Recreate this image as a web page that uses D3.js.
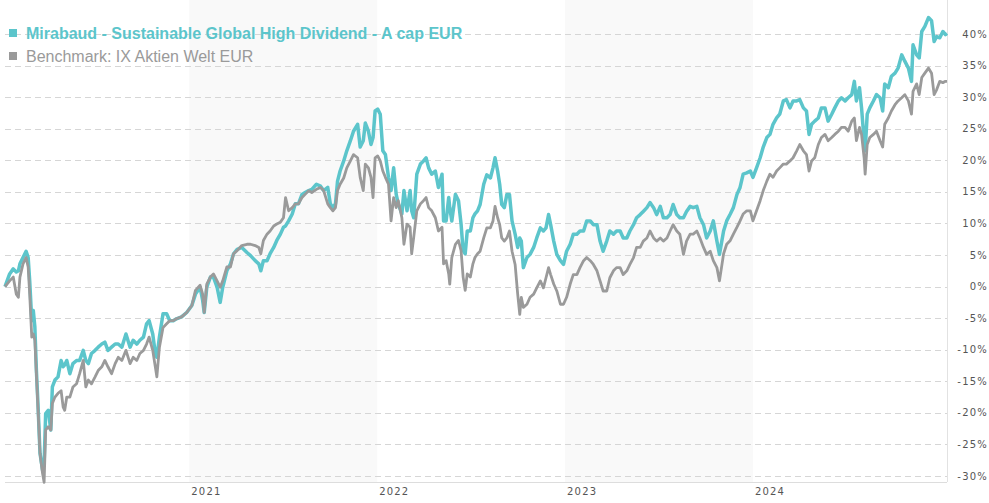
<!DOCTYPE html>
<meta charset="utf-8">
<style>

html, body {
  margin: 0;
  background: #fff;
}

svg {
  display: block;
  font-family: 'Liberation Sans', Arial, sans-serif;
}

.band {
  fill: #f9f9f9;
}

.grid line {
  stroke: #d6d6d6;
  stroke-width: 1px;
  stroke-dasharray: 6, 4;
}

.axis text {
  font-family: 'DejaVu Sans', sans-serif;
  font-size: 10px;
  letter-spacing: 1.2px;
  fill: #555;
}

.fund {
  fill: none;
  stroke: #5cc5cb;
  stroke-width: 3.5px;
  stroke-linejoin: round;
}

.bench {
  fill: none;
  stroke: #9a9a9a;
  stroke-width: 2.8px;
  stroke-linejoin: round;
}

</style>
<svg class="chart"></svg>
<script src="https://d3js.org/d3.v7.min.js"></script>
<script>

var width = 989;
var height = 503;

// dates are "year-dayOfYear"
var dates = [
  '2020-009','2020-018','2020-025','2020-031','2020-035','2020-038','2020-044','2020-050','2020-054','2020-057',
  '2020-061','2020-064','2020-067','2020-070','2020-073','2020-077','2020-082','2020-085','2020-088','2020-093',
  '2020-098','2020-101','2020-106','2020-112','2020-118','2020-122','2020-125','2020-129','2020-135','2020-141',
  '2020-148','2020-154','2020-161','2020-166','2020-171','2020-177','2020-184','2020-190','2020-197','2020-203',
  '2020-209','2020-216','2020-223','2020-229','2020-236','2020-244','2020-252','2020-258','2020-265','2020-271',
  '2020-278','2020-284','2020-289','2020-296','2020-301','2020-304','2020-309','2020-316','2020-323','2020-329',
  '2020-336','2020-342','2020-352','2020-362',
  '2021-006','2021-013','2021-022','2021-027','2021-030','2021-035','2021-042','2021-048','2021-055','2021-061',
  '2021-066','2021-074','2021-081','2021-087','2021-094','2021-103','2021-113','2021-120','2021-129','2021-136',
  '2021-140','2021-145','2021-152','2021-158','2021-165','2021-171','2021-178','2021-184','2021-188','2021-194',
  '2021-201','2021-207','2021-213','2021-220','2021-226','2021-233','2021-239','2021-248','2021-256','2021-262',
  '2021-270','2021-275','2021-280','2021-285','2021-289','2021-294','2021-301','2021-307','2021-314','2021-320',
  '2021-328','2021-333','2021-339','2021-343','2021-349','2021-354','2021-358','2021-362',
  '2022-002','2022-007','2022-012','2022-017','2022-023','2022-028','2022-033','2022-038','2022-042','2022-049',
  '2022-053','2022-059','2022-065','2022-068','2022-072','2022-078','2022-085','2022-091','2022-096','2022-101',
  '2022-107','2022-114','2022-120','2022-127','2022-130','2022-135','2022-140','2022-142','2022-146','2022-153',
  '2022-159','2022-164','2022-168','2022-172','2022-176','2022-182','2022-187','2022-191','2022-196','2022-201',
  '2022-208','2022-214','2022-221','2022-226','2022-230','2022-235','2022-239','2022-243','2022-248','2022-253',
  '2022-258','2022-263','2022-269','2022-274','2022-278','2022-281','2022-285','2022-292','2022-298','2022-305',
  '2022-311','2022-318','2022-324','2022-329','2022-334','2022-338','2022-344','2022-350','2022-357','2022-363',
  '2023-004','2023-011','2023-017','2023-024','2023-030','2023-037','2023-043','2023-050','2023-056','2023-063',
  '2023-069','2023-075','2023-082','2023-088','2023-095','2023-101','2023-108','2023-114','2023-121','2023-127',
  '2023-134','2023-140','2023-147','2023-153','2023-160','2023-166','2023-173','2023-179','2023-186','2023-192',
  '2023-199','2023-205','2023-211','2023-218','2023-224','2023-231','2023-237','2023-244','2023-250','2023-257',
  '2023-263','2023-270','2023-276','2023-283','2023-289','2023-296','2023-301','2023-309','2023-315','2023-322',
  '2023-328','2023-335','2023-341','2023-347','2023-354','2023-361',
  '2024-001','2024-008','2024-015','2024-021','2024-028','2024-034','2024-040','2024-047','2024-053','2024-060',
  '2024-066','2024-073','2024-079','2024-086','2024-092','2024-099','2024-105','2024-110','2024-115','2024-121',
  '2024-128','2024-134','2024-141','2024-147','2024-154','2024-160','2024-167','2024-173','2024-180','2024-186',
  '2024-193','2024-198','2024-202','2024-208','2024-212','2024-217','2024-219','2024-223','2024-228','2024-235',
  '2024-241','2024-248','2024-253','2024-257','2024-264','2024-270','2024-277','2024-283','2024-290','2024-296',
  '2024-303','2024-309','2024-312','2024-319','2024-324','2024-329','2024-335','2024-342','2024-348','2024-353',
  '2024-358','2024-364','2025-004','2025-009','2025-012'
];

// Mirabaud - Sustainable Global High Dividend - A cap EUR, cumulative %
var fund = [
  0, 2.0, 2.8, 2.3, 2.5, 3.6, 4.6, 5.6, 4.6, 0.9,
  -5.4, -3.8, -6.4, -13.3, -18.5, -26.4, -29.1, -28.0, -20.1, -19.6,
  -22.7, -15.9, -14.8, -14.3, -11.7, -12.7, -12.4, -11.7, -13.8, -12.2,
  -11.7, -11.7, -10.1, -11.7, -12.2, -10.6, -10.1, -9.6, -9.1, -8.8,
  -10.1, -9.6, -9.1, -9.1, -9.6, -7.5, -9.6, -8.5, -9.1, -8.5,
  -8.0, -5.9, -5.4, -7.5, -10.6, -11.2, -8.0, -4.3, -4.3, -5.4,
  -5.4, -5.1, -4.8, -4.1,
  -3.0, -1.2, -0.1, -2.2, -4.1, -0.1, 1.5, 1.5, -0.1, -2.5,
  -0.1, 2.5, 3.6, 5.2, 5.9, 6.2, 5.4, 4.9, 4.1, 3.6,
  2.5, 4.1, 4.1, 5.2, 6.2, 7.3, 8.3, 9.4, 9.6, 10.4,
  11.5, 13.1, 13.1, 14.6, 14.9, 15.2, 15.4, 16.2, 15.9, 15.2,
  15.7, 13.1, 12.5, 13.1, 16.7, 18.3, 19.9, 21.5, 23.1, 24.6,
  25.7, 22.1, 23.1, 25.9, 24.6, 22.5, 23.6, 27.8,
  28.1, 27.3, 21.5, 20.9, 17.3, 15.2, 18.8, 14.6, 13.1, 11.5,
  15.2, 12.0, 15.2, 12.0, 10.9, 17.8, 19.4, 19.9, 20.4, 18.8,
  17.8, 18.3, 15.7, 17.8, 10.4, 10.4, 14.1, 12.5, 10.4, 14.6,
  13.6, 9.9, 5.7, 5.2, 8.8, 8.8, 10.9, 11.5, 12.0, 13.0,
  16.2, 17.7, 17.2, 18.8, 20.4, 18.3, 16.2, 13.0, 12.5, 14.6,
  14.6, 10.4, 8.3, 6.2, 7.7, 7.2, 3.0, 4.6, 5.1, 6.2,
  7.7, 9.3, 8.8, 9.3, 11.4, 9.8, 7.2, 5.1, 4.1, 3.5,
  5.6, 6.7, 8.3, 8.3, 8.8, 8.8, 10.4, 10.4, 9.8, 9.8,
  7.2, 5.6, 7.2, 8.8, 8.3, 8.8, 8.8, 7.7, 7.7, 8.8,
  9.8, 10.9, 11.4, 11.9, 12.5, 13.3, 12.5, 11.4, 12.7, 10.9,
  10.9, 11.4, 13.0, 11.4, 10.9, 10.9, 11.9, 12.7, 12.5, 12.7,
  10.9, 9.8, 7.7, 8.8, 10.4, 7.2, 5.1, 8.8, 10.4, 11.5,
  12.5, 14.6, 15.7, 17.8, 18.0, 18.3,
  17.3, 18.8, 20.4, 22.1, 23.6, 24.1, 25.7, 26.7, 27.3, 29.4,
  29.6, 28.3, 29.4, 29.4, 29.6, 28.3, 27.8, 24.1, 25.7, 26.2,
  26.7, 28.3, 28.3, 26.2, 27.3, 28.3, 29.4, 29.9, 29.4, 29.9,
  30.4, 32.5, 29.4, 31.5, 28.3, 23.1, 21.5, 27.3, 28.3, 29.4,
  30.4, 29.9, 27.8, 32.1, 31.5, 33.3, 33.8, 34.6, 36.7, 35.7,
  34.6, 32.5, 38.3, 36.7, 36.2, 40.4, 41.2, 42.6, 42.1, 38.8,
  39.6, 39.4, 40.4, 39.9, 40.1
];

// Benchmark: IX Aktien Welt EUR, cumulative %
var bench = [
  0, 0.9, 1.5, -1.2, -1.7, 1.5, 3.6, 4.6, 3.1, -1.2,
  -8.0, -7.5, -8.5, -13.8, -19.1, -26.4, -29.6, -31.0, -22.7, -22.2,
  -22.7, -18.5, -17.5, -16.9, -16.5, -19.1, -19.6, -17.5, -17.5, -15.9,
  -15.4, -13.8, -11.7, -15.9, -14.8, -15.4, -14.3, -13.3, -12.7, -11.7,
  -12.7, -13.8, -12.2, -11.2, -11.7, -10.1, -12.2, -11.2, -11.7, -10.6,
  -10.1, -9.1, -8.0, -10.1, -12.7, -14.3, -9.6, -6.5, -5.9, -5.4,
  -5.4, -5.1, -4.8, -4.1,
  -3.0, -0.6, 0.2, -1.2, -4.1, 0.4, 1.5, 2.0, 0.9, -0.1,
  0.9, 3.1, 3.1, 5.2, 5.7, 6.5, 6.7, 6.7, 6.5, 6.2,
  5.2, 7.3, 8.3, 8.8, 9.6, 9.9, 10.2, 10.9, 14.1, 12.0,
  12.5, 13.1, 13.1, 14.1, 14.6, 15.2, 14.9, 15.4, 15.7, 15.2,
  13.1, 12.5, 12.0, 12.5, 15.2, 16.2, 17.2, 18.8, 19.9, 20.9,
  20.4, 17.3, 15.2, 19.4, 18.8, 17.3, 14.1, 20.4,
  20.7, 19.9, 18.3, 17.3, 16.2, 10.4, 14.1, 12.5, 13.6, 10.9,
  6.7, 9.9, 9.4, 5.2, 7.8, 12.0, 13.1, 13.6, 14.1, 12.5,
  12.0, 10.9, 8.8, 9.4, 3.6, 4.1, 2.0, 0.4, 4.6, 6.7,
  7.3, 5.7, 1.5, -0.6, 2.0, 1.5, 3.6, 4.6, 5.2, 5.6,
  7.7, 9.3, 9.3, 10.4, 12.7, 10.9, 9.8, 7.7, 7.2, 7.7,
  8.8, 5.6, 3.5, -1.2, -4.4, -1.7, -3.3, -2.8, -1.7, -1.2,
  -0.2, 0.9, -0.2, 1.4, 3.0, 1.9, 0.4, -0.7, -2.8, -2.8,
  -1.7, 0.4, 1.9, 1.9, 3.0, 4.1, 4.6, 4.1, 3.5, 2.5,
  0.9, -0.7, -0.7, 1.4, 2.5, 3.0, 3.0, 1.9, 2.5, 3.5,
  4.6, 6.2, 6.2, 7.2, 7.7, 8.8, 7.7, 7.2, 7.7, 7.2,
  7.7, 8.8, 9.8, 8.8, 8.3, 5.1, 7.2, 8.3, 8.3, 8.8,
  7.7, 6.2, 5.1, 5.6, 4.1, 3.0, 0.9, 5.2, 6.7, 7.3,
  8.3, 9.4, 10.4, 11.5, 12.0, 12.0,
  10.4, 12.0, 13.6, 15.2, 16.7, 17.8, 17.3, 18.3, 18.8, 19.4,
  19.4, 19.9, 20.4, 21.5, 22.5, 21.5, 20.9, 18.3, 19.9, 20.4,
  22.5, 23.6, 24.1, 23.1, 23.6, 24.1, 24.6, 25.2, 25.2, 24.6,
  26.2, 26.7, 23.1, 25.2, 24.1, 20.4, 17.8, 22.5, 23.6, 24.1,
  24.6, 23.1, 22.1, 25.7, 26.7, 27.8, 28.8, 29.4, 29.9, 30.4,
  29.4, 27.3, 30.9, 32.1, 30.4, 33.1, 33.8, 34.6, 33.8, 30.4,
  31.2, 32.5, 32.3, 32.5, 32.5
];

var yearTicks = [2021, 2022, 2023, 2024];
var shadedYears = [2021, 2023];
var yTicks = [-30, -25, -20, -15, -10, -5, 0, 5, 10, 15, 20, 25, 30, 35, 40];

var legendItems = [
  {name: 'Mirabaud - Sustainable Global High Dividend - A cap EUR', color: '#5cc5cb', weight: 'bold'},
  {name: 'Benchmark: IX Aktien Welt EUR', color: '#9a9a9a', weight: 'normal'}
];

function parseDay (s) {
  var p = s.split('-');
  return new Date(+p[0], 0, +p[1]);
}

var parsed = dates.map(parseDay);

var plot = {left: 5, right: 947, top: 0, bottom: 482};

var x = d3.scaleTime()
  .domain([parsed[0], parsed[parsed.length - 1]])
  .range([plot.left, plot.right]);

var y = d3.scaleLinear()
  .domain([-30, 40])
  .range([476, 34]);

var svg = d3.select('svg.chart')
  .attr('width', width)
  .attr('height', height);

svg.append('g')
  .selectAll('rect')
  .data(shadedYears)
  .enter().append('rect')
    .attr('class', 'band')
    .attr('x', function (d) { return x(new Date(d, 0, 1)); })
    .attr('y', plot.top)
    .attr('width', function (d) { return x(new Date(d + 1, 0, 1)) - x(new Date(d, 0, 1)); })
    .attr('height', plot.bottom - plot.top);

svg.append('g')
    .attr('class', 'grid')
  .selectAll('line')
  .data(yTicks)
  .enter().append('line')
    .attr('x1', plot.left)
    .attr('x2', plot.right)
    .attr('y1', function (d) { return Math.round(y(d)) + 0.5; })
    .attr('y2', function (d) { return Math.round(y(d)) + 0.5; });

svg.append('line')
  .attr('x1', plot.left)
  .attr('x2', plot.right)
  .attr('y1', plot.bottom + 0.5)
  .attr('y2', plot.bottom + 0.5)
  .attr('stroke', '#ddd');

svg.append('line')
  .attr('x1', plot.right + 0.5)
  .attr('x2', plot.right + 0.5)
  .attr('y1', 0)
  .attr('y2', plot.bottom)
  .attr('stroke', '#e2e2e2');

// legend sits behind the lines, over the grid
var legend = svg.append('g')
  .selectAll('g')
  .data(legendItems)
  .enter().append('g')
    .attr('transform', function (d, i) { return 'translate(9,' + (29 + i * 23) + ')'; });

legend.append('rect')
  .attr('width', 8)
  .attr('height', 8)
  .attr('fill', function (d) { return d.color; });

legend.append('text')
  .attr('x', 17)
  .attr('y', 9.5)
  .attr('fill', function (d) { return d.color; })
  .attr('font-size', '16px')
  .attr('font-weight', function (d) { return d.weight; })
  .text(function (d) { return d.name; });

var line = d3.line()
  .x(function (d, i) { return x(parsed[i]); })
  .y(function (d) { return y(d); });

svg.append('path')
  .datum(fund)
  .attr('class', 'fund')
  .attr('d', line);

svg.append('path')
  .datum(bench)
  .attr('class', 'bench')
  .attr('d', line);

svg.append('g')
    .attr('class', 'axis')
  .selectAll('text')
  .data(yTicks)
  .enter().append('text')
    .attr('x', 988)
    .attr('y', function (d) { return y(d); })
    .attr('dy', '0.35em')
    .attr('text-anchor', 'end')
    .text(function (d) { return d + '%'; });

svg.append('g')
    .attr('class', 'axis')
  .selectAll('text')
  .data(yearTicks)
  .enter().append('text')
    .attr('x', function (d) { return x(new Date(d, 0, 1)) + 2; })
    .attr('y', 495)
    .text(function (d) { return d; });

</script>
